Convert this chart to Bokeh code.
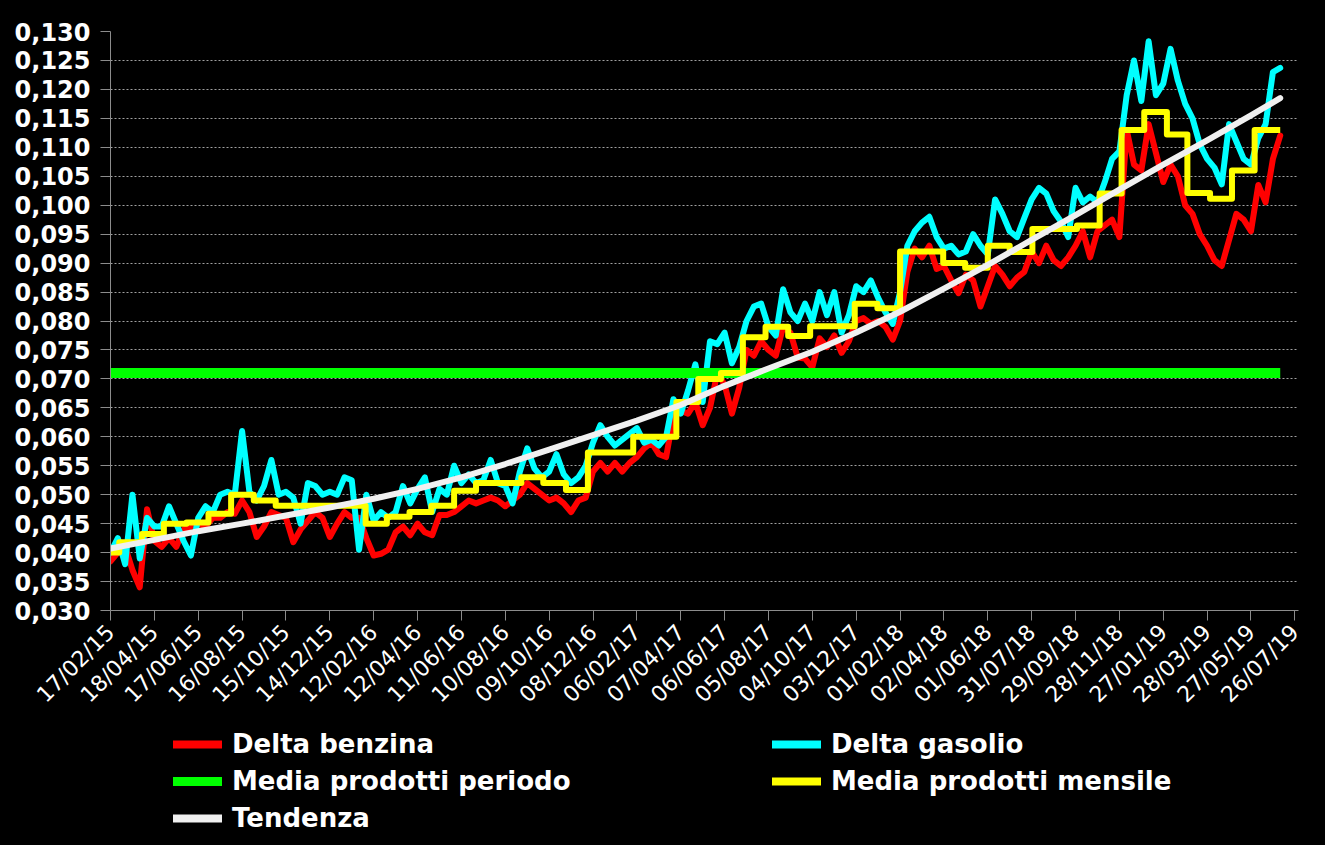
import pandas as pd
from bokeh.plotting import figure
from bokeh.layouts import column
from bokeh.models import (FixedTicker, DatetimeTickFormatter, Legend, LegendItem,
                          Range1d, CustomJSTickFormatter)
from bokeh.embed import file_html
from bokeh.resources import INLINE

# ---------------- data ----------------
START = "2015-02-17"
STEP_DAYS = 10          # one reading every 10 days

benzina = [
    0.0385, 0.0400, 0.0410, 0.0370, 0.0340, 0.0475, 0.0420, 0.0410, 0.0425, 0.0410,
    0.0440, 0.0445, 0.0450, 0.0445, 0.0460, 0.0460, 0.0470, 0.0467, 0.0490, 0.0470,
    0.0427, 0.0445, 0.0470, 0.0465, 0.0460, 0.0418, 0.0440, 0.0455, 0.0470, 0.0460,
    0.0427, 0.0450, 0.0470, 0.0460, 0.0460, 0.0425, 0.0395, 0.0398, 0.0405, 0.0435,
    0.0445, 0.0430, 0.0450, 0.0435, 0.0430, 0.0465, 0.0465, 0.0470, 0.0480, 0.0490,
    0.0485, 0.0490, 0.0495, 0.0490, 0.0480, 0.0490, 0.0500, 0.0520, 0.0510, 0.0500,
    0.0490, 0.0495, 0.0485, 0.0470, 0.0490, 0.0495, 0.0540, 0.0555, 0.0540, 0.0555,
    0.0540, 0.0555, 0.0565, 0.0580, 0.0590, 0.0570, 0.0565, 0.0635, 0.0645, 0.0640,
    0.0660, 0.0620, 0.0650, 0.0710, 0.0690, 0.0640, 0.0685, 0.0750, 0.0740, 0.0765,
    0.0750, 0.0740, 0.0790, 0.0780, 0.0737, 0.0735, 0.0720, 0.0770, 0.0755, 0.0775,
    0.0745, 0.0765, 0.0800, 0.0805, 0.0795, 0.0800, 0.0790, 0.0768, 0.0800, 0.0885,
    0.0925, 0.0910, 0.0930, 0.0890, 0.0895, 0.0870, 0.0848, 0.0880, 0.0870, 0.0825,
    0.0860, 0.0895, 0.0880, 0.0860, 0.0875, 0.0885, 0.0920, 0.0900, 0.0930, 0.0905,
    0.0895, 0.0910, 0.0930, 0.0955, 0.0910, 0.0955, 0.0965, 0.0975, 0.0945, 0.1130,
    0.1070, 0.1060, 0.1140, 0.1090, 0.1040, 0.1070, 0.1050, 0.1000, 0.0985, 0.0950,
    0.0930, 0.0905, 0.0895, 0.0940, 0.0985, 0.0975, 0.0955, 0.1035, 0.1005, 0.1080,
    0.1120,
]

gasolio = [
    0.0400, 0.0425, 0.0380, 0.0500, 0.0390, 0.0460, 0.0445, 0.0445, 0.0480, 0.0450,
    0.0420, 0.0395, 0.0460, 0.0480, 0.0470, 0.0500, 0.0505, 0.0500, 0.0610, 0.0505,
    0.0490, 0.0515, 0.0560, 0.0500, 0.0505, 0.0495, 0.0450, 0.0520, 0.0515, 0.0500,
    0.0505, 0.0500, 0.0530, 0.0525, 0.0405, 0.0500, 0.0455, 0.0470, 0.0460, 0.0470,
    0.0515, 0.0485, 0.0510, 0.0530, 0.0470, 0.0510, 0.0500, 0.0550, 0.0520, 0.0535,
    0.0520, 0.0525, 0.0560, 0.0520, 0.0515, 0.0485, 0.0540, 0.0580, 0.0545, 0.0530,
    0.0540, 0.0570, 0.0535, 0.0520, 0.0530, 0.0550, 0.0590, 0.0620, 0.0600, 0.0585,
    0.0595, 0.0605, 0.0615, 0.0590, 0.0595, 0.0585, 0.0600, 0.0665, 0.0640, 0.0680,
    0.0725, 0.0660, 0.0765, 0.0760, 0.0780, 0.0727, 0.0755, 0.0800, 0.0825, 0.0830,
    0.0790, 0.0775, 0.0855, 0.0815, 0.0800, 0.0830, 0.0800, 0.0850, 0.0810, 0.0850,
    0.0780, 0.0810, 0.0860, 0.0850, 0.0870, 0.0840, 0.0815, 0.0795, 0.0850, 0.0930,
    0.0955, 0.0970, 0.0980, 0.0945, 0.0925, 0.0930, 0.0915, 0.0920, 0.0950, 0.0930,
    0.0915, 0.1010, 0.0985, 0.0955, 0.0945, 0.0978, 0.1010, 0.1030, 0.1020, 0.0990,
    0.0972, 0.0945, 0.1030, 0.1005, 0.1015, 0.1005, 0.1040, 0.1080, 0.1093, 0.1190,
    0.1250, 0.1180, 0.1283, 0.1190, 0.1210, 0.1270, 0.1215, 0.1175, 0.1150, 0.1105,
    0.1080, 0.1065, 0.1036, 0.1140, 0.1110, 0.1080, 0.1070, 0.1116, 0.1140, 0.1230,
    0.1237,
]

# monthly average of both products, Feb 2015 .. Jul 2019
mensile = [
    0.0400, 0.0418, 0.0432, 0.0450, 0.0452, 0.0467, 0.0500, 0.0490, 0.0481, 0.0481, 0.0481,
    0.0481, 0.0450, 0.0462, 0.0470, 0.0481, 0.0507, 0.0520, 0.0520, 0.0530, 0.0520, 0.0508, 0.0573,
    0.0573, 0.0600, 0.0600, 0.0660, 0.0700, 0.0710, 0.0772, 0.0790, 0.0774, 0.0791, 0.0791, 0.0830,
    0.0822, 0.0920, 0.0920, 0.0900, 0.0892, 0.0930, 0.0919, 0.0959, 0.0959, 0.0965, 0.1020, 0.1130,
    0.1161, 0.1122, 0.1021, 0.1011, 0.1060, 0.1130, 0.1130,
]

periodo = 0.0710

tick_labels = [
    "17/02/15", "18/04/15", "17/06/15", "16/08/15", "15/10/15", "14/12/15", "12/02/16",
    "12/04/16", "11/06/16", "10/08/16", "09/10/16", "08/12/16", "06/02/17", "07/04/17",
    "06/06/17", "05/08/17", "04/10/17", "03/12/17", "01/02/18", "02/04/18", "01/06/18",
    "31/07/18", "29/09/18", "28/11/18", "27/01/19", "28/03/19", "27/05/19", "26/07/19",
]

# trend line read at each tick date (last one at the end of the data)
tendenza_labels = tick_labels[:27] + ["06/07/19"]
tendenza = [
    0.0407, 0.0422, 0.0437, 0.0450, 0.0464, 0.0478, 0.0493, 0.0510, 0.0530, 0.0553,
    0.0578, 0.0603, 0.0628, 0.0655, 0.0688, 0.0718, 0.0747, 0.0780, 0.0816, 0.0856,
    0.0897, 0.0940, 0.0983, 0.1027, 0.1070, 0.1112, 0.1155, 0.1185,
]

legend_labels = ["Delta benzina", "Delta gasolio", "Media prodotti periodo",
                 "Media prodotti mensile", "Tendenza"]

y_ticks = [round(0.030 + 0.005 * k, 3) for k in range(21)]

# ---------------- build ----------------
RED, CYAN, GREEN, YELLOW, WHITE = "#ff0000", "#00ffff", "#00ff00", "#ffff00", "#f0f0f0"

start = pd.Timestamp(START)
dates = pd.date_range(start, periods=len(benzina), freq=f"{STEP_DAYS}D")
end_data = dates[-1]

month_x = list(pd.date_range("2015-02-01", periods=len(mensile), freq="MS"))
month_x[0] = start
month_x.append(end_data)
month_y = mensile + [mensile[-1]]

tick_dates = pd.to_datetime(tick_labels, format="%d/%m/%y")
tend_dates = pd.to_datetime(tendenza_labels, format="%d/%m/%y")

x_end = pd.Timestamp("2019-07-31")

p = figure(x_axis_type="datetime", width=1325, height=720,
           output_backend="svg", toolbar_location=None,
           x_range=Range1d(start.to_pydatetime(), x_end.to_pydatetime()),
           y_range=Range1d(0.030, 0.130),
           min_border_left=110, min_border_top=31, min_border_right=27,
           min_border_bottom=110,
           background_fill_color="black", border_fill_color="black")
p.outline_line_color = None

p.line(dates, benzina, line_color=RED, line_width=6, line_join="round", line_cap="round")
p.line(dates, gasolio, line_color=CYAN, line_width=6, line_join="round", line_cap="round")
p.line([start, end_data], [periodo, periodo], line_color=GREEN, line_width=10)
p.step(month_x, month_y, mode="after", line_color=YELLOW, line_width=6,
       line_join="round")
p.line(tend_dates, tendenza, line_color=WHITE, line_width=6,
       line_cap="round", line_join="round")

# axes
xa = p.xaxis[0]
xa.ticker = FixedTicker(ticks=[t.value / 1e6 for t in tick_dates])
xa.formatter = DatetimeTickFormatter(days="%d/%m/%y", months="%d/%m/%y",
                                     years="%d/%m/%y", hours="%d/%m/%y")
xa.major_label_orientation = 0.785398
xa.major_label_text_color = "white"
xa.major_label_text_font = "DejaVu Sans"
xa.major_label_text_font_size = "22px"
xa.major_label_standoff = 8
xa.axis_line_color = "#8c8c8c"
xa.major_tick_line_color = "#8c8c8c"
xa.major_tick_out = 10
xa.major_tick_in = 0
xa.minor_tick_line_color = None

ya = p.yaxis[0]
ya.ticker = FixedTicker(ticks=y_ticks)
ya.formatter = CustomJSTickFormatter(code="return tick.toFixed(3).replace('.', ',');")
ya.major_label_text_color = "white"
ya.major_label_text_font = "DejaVu Sans"
ya.major_label_text_font_style = "bold"
ya.major_label_text_font_size = "24px"
ya.axis_line_color = "#8c8c8c"
ya.major_tick_line_color = "#8c8c8c"
ya.major_tick_out = 10
ya.major_tick_in = 0
ya.minor_tick_line_color = None
ya.major_label_standoff = 10

p.xgrid.grid_line_color = None
p.ygrid.ticker = FixedTicker(ticks=y_ticks[1:-1])
p.ygrid.grid_line_color = "#a0a0a0"
p.ygrid.grid_line_dash = "2 2"
p.ygrid.grid_line_width = 1

# ---------------- legend panel (2 columns, below the chart) ----------------
pl = figure(width=1325, height=125, output_backend="svg", toolbar_location=None,
            x_range=Range1d(0, 1), y_range=Range1d(0, 1),
            x_axis_location=None, y_axis_location=None,
            min_border=0, background_fill_color="black", border_fill_color="black")
pl.outline_line_color = None
pl.grid.visible = False

styles = [(RED, 8), (CYAN, 8), (GREEN, 9), (YELLOW, 8), (WHITE, 8)]
items = []
for lab, (col, w) in zip(legend_labels, styles):
    # sample line kept outside the visible range: only its legend swatch shows
    r = pl.line(x=[0, 1], y=[-5, -5], line_color=col, line_width=w, line_cap="round")
    items.append(LegendItem(label=lab, renderers=[r]))

legend = Legend(items=items, orientation="horizontal", ncols=2, location=(63, 12))
legend.label_text_color = "white"
legend.label_text_font = "DejaVu Sans"
legend.label_text_font_style = "bold"
legend.label_text_font_size = "26px"
legend.background_fill_alpha = 0
legend.border_line_alpha = 0
legend.glyph_width = 49
legend.glyph_height = 30
legend.label_standoff = 10
legend.label_width = 533
legend.label_height = 30
legend.spacing = 7
legend.padding = 0
legend.margin = 0
pl.add_layout(legend, "center")

layout = column(p, pl, spacing=0, styles={"background-color": "black"})
open("out.html", "w").write(file_html(layout, INLINE))
